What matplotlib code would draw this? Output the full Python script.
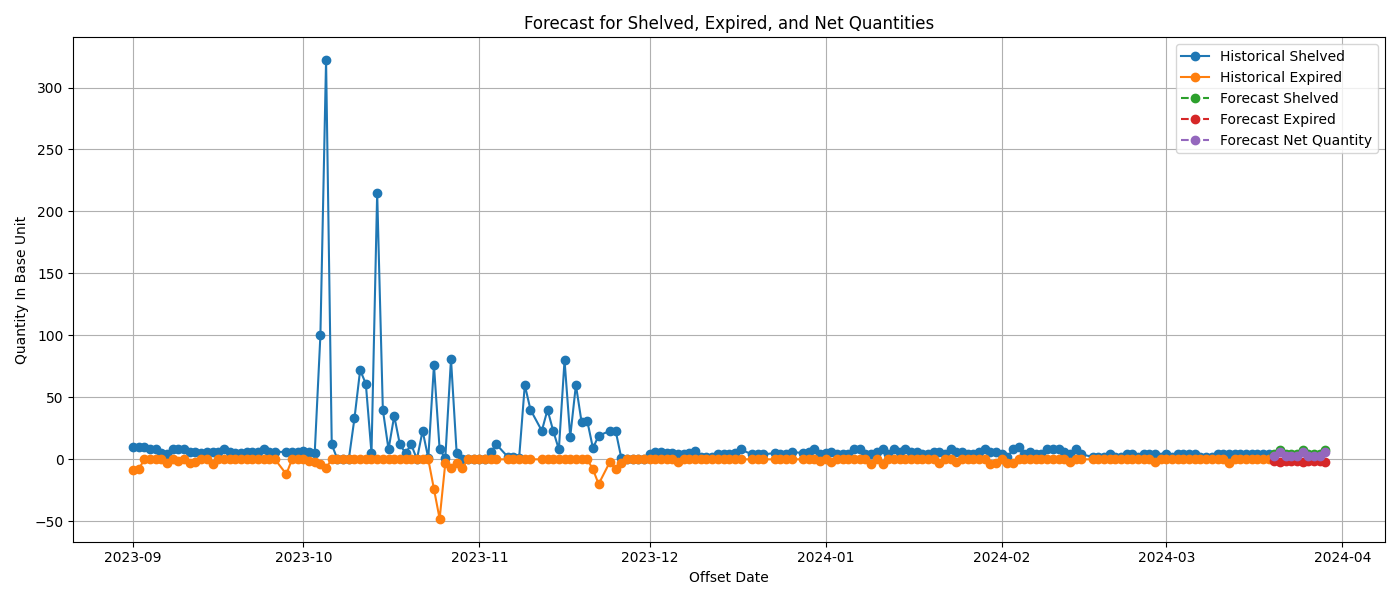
import matplotlib
matplotlib.use("Agg")
import matplotlib.pyplot as plt
import pandas as pd
import numpy as np

# Historical values per month (None = date not present in the data)
sep_shelved = [10,10,10,8,8,5,4,8,8,8, 6,6,5,6,6,6,8,6,5,5, 6,6,6,8,6,6,None,6,6,6]
sep_expired = [-9,-8,0,0,0,0,-3,0,-1,0, -3,-2,0,0,-4,0,0,0,0,0, 0,0,0,0,0,0,None,-12,0,0]
oct_shelved = [7,6,5,100,322,12,0,0,0,33, 72,61,5,215,40,8,35,12,5,12, 0,23,1,76,8,1,81,5,0,0, 0]
oct_expired = [0,-1,-2,-4,-7,0,0,0,0,0, 0,0,0,0,0,0,0,0,0,0, 0,0,0,-24,-48,-3,-7,-3,-7,0, 0]
nov_shelved = [0,0,6,12,None,2,2,1,60,40, None,23,40,23,8,80,18,60,30,31, 9,19,None,23,23,1,0,0,0,0]
nov_expired = [0,0,0,0,None,0,0,0,0,0, None,0,0,0,0,0,0,0,0,0, -8,-20,None,-2,-8,-3,0,0,0,0]
dec_shelved = [4,6,6,5,5,4,4,5,7,2, 2,2,4,4,4,5,8,None,4,4, 4,None,5,4,4,6,None,5,6,8, 4]
dec_expired = [0,0,0,0,0,-2,0,0,0,0, 0,0,0,0,0,0,0,None,0,0, 0,None,0,0,0,0,None,0,0,0, -1]
jan_shelved = [5,6,4,4,4,8,8,4,4,6, 8,4,8,6,8,6,6,4,4,6, 6,4,8,6,6,4,4,6,8,6, 6]
jan_expired = [0,-2,0,0,0,0,0,0,-4,0, -4,0,0,0,0,0,0,0,0,0, -3,0,0,-2,0,0,0,0,0,-4, -3]
feb_shelved = [4,2,8,10,4,6,4,4,8,8, 8,6,4,8,4,None,2,2,2,4, 2,2,4,4,2,4,4,4,2]
feb_expired = [0,-3,-3,0,0,0,0,0,0,0, 0,0,-2,0,0,None,0,0,0,0, 0,0,0,0,0,0,0,-2,0]
mar_shelved = [4,2,4,4,4,4,2,2,2,4, 4,4,4,4,4,4,4,4,4]
mar_expired = [0,0,0,0,0,0,0,0,0,0, 0,-3,0,0,0,0,0,0,0]

hist_start = "2023-09-01"
hist_end = "2024-03-19"

# Forecast values
fc_start = "2024-03-20"
fc_end = "2024-03-29"
fc_shelved = [4,7.5,4,4,4,7.5,4,4,4,7.5]
fc_expired = [-1,-2,-1,-1,-1,-2,-1,-1,-1,-2]
fc_net = [3,5.5,3,3,3,5.5,3,3,3,5.5]

shelved_all = sep_shelved + oct_shelved + nov_shelved + dec_shelved + jan_shelved + feb_shelved + mar_shelved
expired_all = sep_expired + oct_expired + nov_expired + dec_expired + jan_expired + feb_expired + mar_expired
all_days = pd.date_range(hist_start, hist_end, freq="D")
hist = pd.DataFrame({"date": all_days, "shelved": shelved_all, "expired": expired_all})
hist = hist.dropna().reset_index(drop=True)

fc_dates = pd.date_range(fc_start, fc_end, freq="D")

fig, ax = plt.subplots(figsize=(14, 6), dpi=100)
ax.plot(hist["date"], hist["shelved"].astype(float), marker="o", label="Historical Shelved")
ax.plot(hist["date"], hist["expired"].astype(float), marker="o", label="Historical Expired")
ax.plot(fc_dates, fc_shelved, marker="o", linestyle="--", label="Forecast Shelved")
ax.plot(fc_dates, fc_expired, marker="o", linestyle="--", label="Forecast Expired")
ax.plot(fc_dates, fc_net, marker="o", linestyle="--", label="Forecast Net Quantity")

ax.set_title("Forecast for Shelved, Expired, and Net Quantities")
ax.set_xlabel("Offset Date")
ax.set_ylabel("Quantity In Base Unit")
ax.legend()
ax.grid(True)
fig.tight_layout()
fig.savefig("out.png")
